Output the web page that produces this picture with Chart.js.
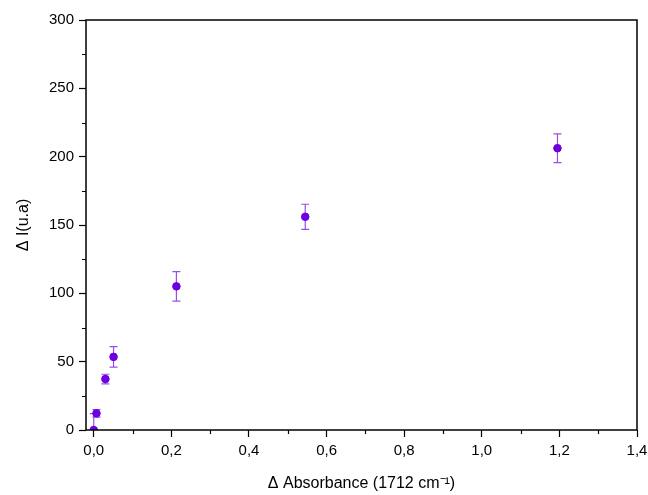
<!DOCTYPE html>
<html>
<head>
<meta charset="utf-8">
<script src="https://cdn.jsdelivr.net/npm/chart.js@4.4.0/dist/chart.umd.min.js"></script>
<style>
  html, body { margin: 0; padding: 0; background: #fff; }
  #wrap { width: 648px; height: 495px; }
</style>
</head>
<body>
<div id="wrap"><canvas id="absorb_chart"></canvas></div>
<script>
// values
var absorbance = [0.0, 0.007, 0.030, 0.051, 0.213, 0.545, 1.195];
var intensity = [0, 12.2, 37.3, 53.5, 105.1, 156.0, 206.2];
var err = [12, 2.8, 3.5, 7.5, 10.8, 9.2, 10.5];

var pointColor = "rgb(108, 0, 222)";
var errColor = "rgb(150, 80, 230)";

var points = absorbance.map(function(x, i) {
    return { x: x, y: intensity[i] };
});

// error bars + minor ticks + box frame
var extras = {
    id: "extras",
    beforeDatasetsDraw: function(chart) {
        var ctx = chart.ctx;
        var xs = chart.scales.x, ys = chart.scales.y;
        var area = chart.chartArea;
        ctx.save();
        ctx.beginPath();
        ctx.rect(area.left, area.top, area.right - area.left, area.bottom - area.top);
        ctx.clip();
        ctx.strokeStyle = errColor;
        ctx.lineWidth = 1.2;
        for (var i = 0; i < absorbance.length; i++) {
            var px = xs.getPixelForValue(absorbance[i]);
            var top = ys.getPixelForValue(intensity[i] + err[i]);
            var bot = ys.getPixelForValue(intensity[i] - err[i]);
            ctx.beginPath();
            ctx.moveTo(px, top); ctx.lineTo(px, bot);
            ctx.moveTo(px - 4, top); ctx.lineTo(px + 4, top);
            ctx.moveTo(px - 4, bot); ctx.lineTo(px + 4, bot);
            ctx.stroke();
        }
        ctx.restore();
    },
    afterDraw: function(chart) {
        var ctx = chart.ctx;
        var xs = chart.scales.x, ys = chart.scales.y;
        var area = chart.chartArea;
        ctx.save();
        ctx.strokeStyle = "#000";
        ctx.lineWidth = 1.5;
        ctx.strokeRect(area.left, area.top, area.right - area.left, area.bottom - area.top);
        ctx.lineWidth = 1.2;
        ctx.beginPath();
        for (var v = 25; v < 300; v += 50) {
            var py = Math.round(ys.getPixelForValue(v)) + 0.5;
            ctx.moveTo(area.left, py); ctx.lineTo(area.left - 4, py);
        }
        for (var k = 1; k < 14; k += 2) {
            var px = Math.round(xs.getPixelForValue(k / 10)) + 0.5;
            ctx.moveTo(px, area.bottom); ctx.lineTo(px, area.bottom + 4);
        }
        ctx.stroke();
        ctx.restore();
    }
};

var chart = new Chart(document.getElementById("absorb_chart"), {
    type: "scatter",
    data: {
        datasets: [{
            label: "ΔI",
            data: points,
            backgroundColor: pointColor,
            borderColor: pointColor,
            pointRadius: 3.8,
            pointHoverRadius: 3.8,
            clip: 0
        }]
    },
    plugins: [extras],
    options: {
        responsive: true,
        maintainAspectRatio: false,
        animation: false,
        layout: {
            padding: { left: 10, right: 11, top: 20, bottom: 0 }
        },
        plugins: {
            legend: { display: false },
            tooltip: { enabled: false }
        },
        scales: {
            x: {
                type: "linear",
                min: -0.02,
                max: 1.4,
                afterFit: function(scale) {
                    scale.height = 65;
                    scale.paddingLeft = 0;
                    scale.paddingRight = 0;
                },
                afterBuildTicks: function(scale) {
                    var t = [];
                    for (var k = 0; k <= 14; k += 2) t.push({ value: k / 10 });
                    scale.ticks = t;
                },
                border: { display: false },
                grid: {
                    drawOnChartArea: false,
                    tickLength: 7,
                    tickWidth: 1.2,
                    tickColor: "#000"
                },
                ticks: {
                    color: "#000",
                    font: { family: "Arial, 'Liberation Sans'", size: 15 },
                    padding: 5,
                    maxRotation: 0,
                    callback: function(v) { return v.toFixed(1).replace(".", ","); }
                },
                title: {
                    display: true,
                    text: "Δ Absorbance (1712 cm⁻¹)",
                    color: "#000",
                    font: { family: "Arial, 'Liberation Sans'", size: 16 },
                    padding: { top: 0, bottom: 2 }
                }
            },
            y: {
                min: 0,
                max: 300,
                afterFit: function(scale) {
                    scale.width = 76;
                    scale.paddingTop = 0;
                    scale.paddingBottom = 0;
                },
                border: { display: false },
                grid: {
                    drawOnChartArea: false,
                    tickLength: 7,
                    tickWidth: 1.2,
                    tickColor: "#000"
                },
                ticks: {
                    stepSize: 50,
                    color: "#000",
                    font: { family: "Arial, 'Liberation Sans'", size: 15 },
                    padding: 5
                },
                title: {
                    display: true,
                    text: "Δ I(u.a)",
                    color: "#000",
                    font: { family: "Arial, 'Liberation Sans'", size: 16 },
                    padding: { top: 4, bottom: 0 }
                }
            }
        }
    }
});
</script>
</body>
</html>
